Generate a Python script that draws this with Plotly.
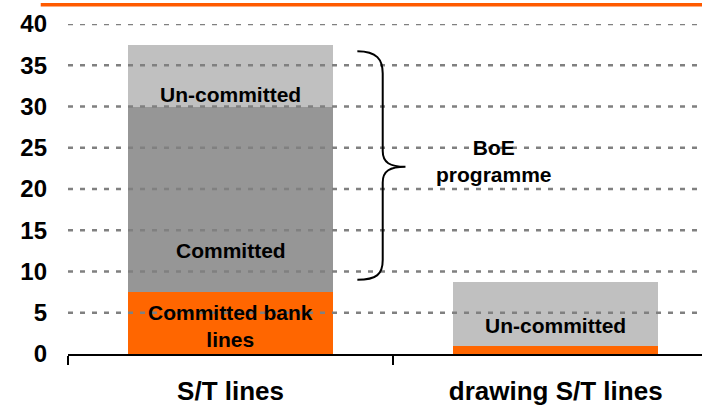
import plotly.graph_objects as go

# datos del grafico
categorias = ["S/T lines", "drawing S/T lines"]
bank_lines = [7.5, 1.0]
committed = [22.5, 0.0]
uncommitted = [7.5, 7.7]
ticks_y = [0, 5, 10, 15, 20, 25, 30, 35, 40]

NARANJA = "#FF6600"
GRIS_OSC = "#969696"
GRIS_CLA = "#C0C0C0"
FUENTE = "Liberation Sans, Arial, sans-serif"

fig = go.Figure()
for vals, color in [(bank_lines, NARANJA), (committed, GRIS_OSC), (uncommitted, GRIS_CLA)]:
    fig.add_trace(go.Bar(x=categorias, y=vals, marker_color=color, marker_line_width=0,
                         width=0.632, hoverinfo="skip", showlegend=False))

# lineas de grilla punteadas por encima de las barras
for v in ticks_y[1:]:
    fig.add_shape(type="line", xref="paper", x0=0, x1=1, yref="y", y0=v, y1=v,
                  line=dict(color="#808080", width=2.5, dash="5px,7px"), layer="above")

# linea naranja superior
fig.add_shape(type="line", xref="paper", x0=-0.043, x1=1, yref="paper", y0=1.058, y1=1.058,
              line=dict(color="#FF5A00", width=3.5), layer="above")

# llave "BoE programme"
llave = ("M 0.39,36.7 C 0.45,36.7 0.468,35.7 0.468,34.0 L 0.468,24.6 "
         "C 0.468,23.2 0.49,22.7 0.538,22.7 C 0.49,22.7 0.468,22.2 0.468,20.8 "
         "L 0.468,11.4 C 0.468,9.7 0.45,9.0 0.39,9.0")
fig.add_shape(type="path", path=llave, xref="x", yref="y",
              line=dict(color="black", width=2), layer="above")

etiquetas = [
    (0, 31.5, "Un-committed"),
    (0, 12.6, "Committed"),
    (0, 3.4, "Committed bank<br>lines"),
    (1, 3.4, "Un-committed"),
    (0.81, 23.4, "BoE<br>programme"),
]
for x, y, t in etiquetas:
    fig.add_annotation(x=x, y=y, text=t, showarrow=False, xref="x", yref="y",
                       font=dict(family=FUENTE, size=21, color="black", weight="bold"))

fig.update_layout(
    width=702, height=406,
    margin=dict(l=68, r=0, t=24, b=52),
    paper_bgcolor="white", plot_bgcolor="white",
    barmode="stack",
    font=dict(family=FUENTE, color="black"),
)
fig.update_xaxes(type="category", range=[-0.5, 1.45], tickson="boundaries",
                 ticks="outside", ticklen=9, tickcolor="black", tickwidth=1.5,
                 showline=True, linecolor="black", linewidth=1.5, showgrid=False,
                 tickfont=dict(size=26, weight="bold"), ticklabelstandoff=13,
                 automargin=False)
fig.update_yaxes(range=[0, 40], tickvals=ticks_y, showgrid=False, zeroline=False,
                 showline=False, ticks="", tickfont=dict(size=24, weight="bold"),
                 ticklabelstandoff=20, automargin=False)

# quitar el margen del body para que la figura quede en la esquina
fig.write_html("out.html", config={"displayModeBar": False},
               post_script="document.body.style.margin='0';")
